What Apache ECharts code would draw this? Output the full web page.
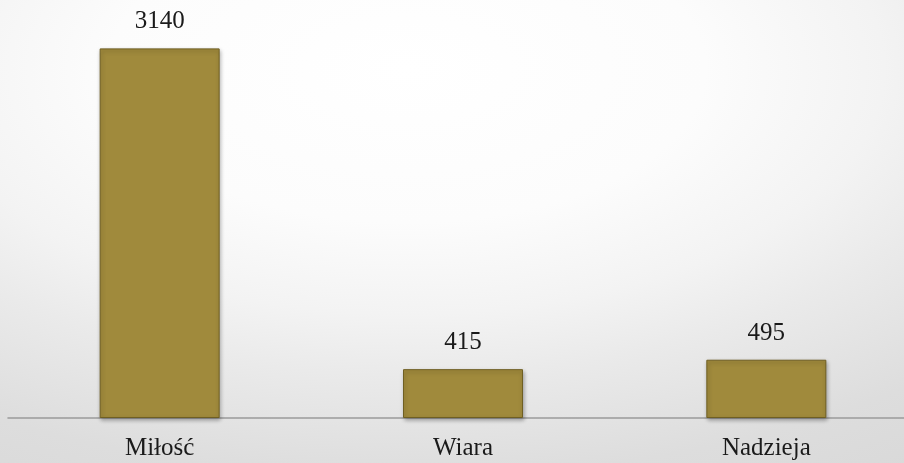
<!DOCTYPE html>
<html>
<head>
<meta charset="utf-8">
<script src="https://cdn.jsdelivr.net/npm/echarts@6/dist/echarts.min.js"></script>
<style>
html,body{margin:0;padding:0;}
#c{width:904px;height:463px;
  background: radial-gradient(ellipse 110% 110% at 45% 15%, #ffffff 0%, #fcfcfc 30%, #f3f3f3 48%, #eaeaea 60%, #dddddd 80%, #d7d7d7 100%);}
</style>
</head>
<body>
<div id="c"></div>
<script>
const categories = ['Miłość', 'Wiara', 'Nadzieja'];
const values = [3140, 415, 495];

const FONT = "'Liberation Serif', 'DejaVu Serif', serif";
const chart = echarts.init(document.getElementById('c'), null, {renderer: 'canvas'});
chart.setOption({
  backgroundColor: 'transparent',
  animation: false,
  grid: {left: 8, width: 910, top: 6, bottom: 45, containLabel: false, outerBoundsMode: 'none'},
  xAxis: {
    type: 'category',
    data: categories,
    axisLine: {lineStyle: {color: '#9a9a9a', width: 1.5}},
    axisTick: {show: false},
    axisLabel: {
      color: '#1a1a1a', fontFamily: FONT, fontSize: 25, margin: 18
    }
  },
  yAxis: {
    type: 'value', min: 0, max: 3500,
    show: false,
    splitLine: {show: false}
  },
  series: [{
    type: 'bar',
    data: values,
    barWidth: 120,
    itemStyle: {
      color: '#a08a3c',
      borderColor: '#6f5f22',
      borderWidth: 1,
      shadowColor: 'rgba(0,0,0,0.3)',
      shadowBlur: 4,
      shadowOffsetX: 1,
      shadowOffsetY: 2
    },
    label: {
      show: true, position: 'top', distance: 14,
      color: '#1a1a1a', fontFamily: FONT, fontSize: 25
    }
  }]
});
</script>
</body>
</html>
